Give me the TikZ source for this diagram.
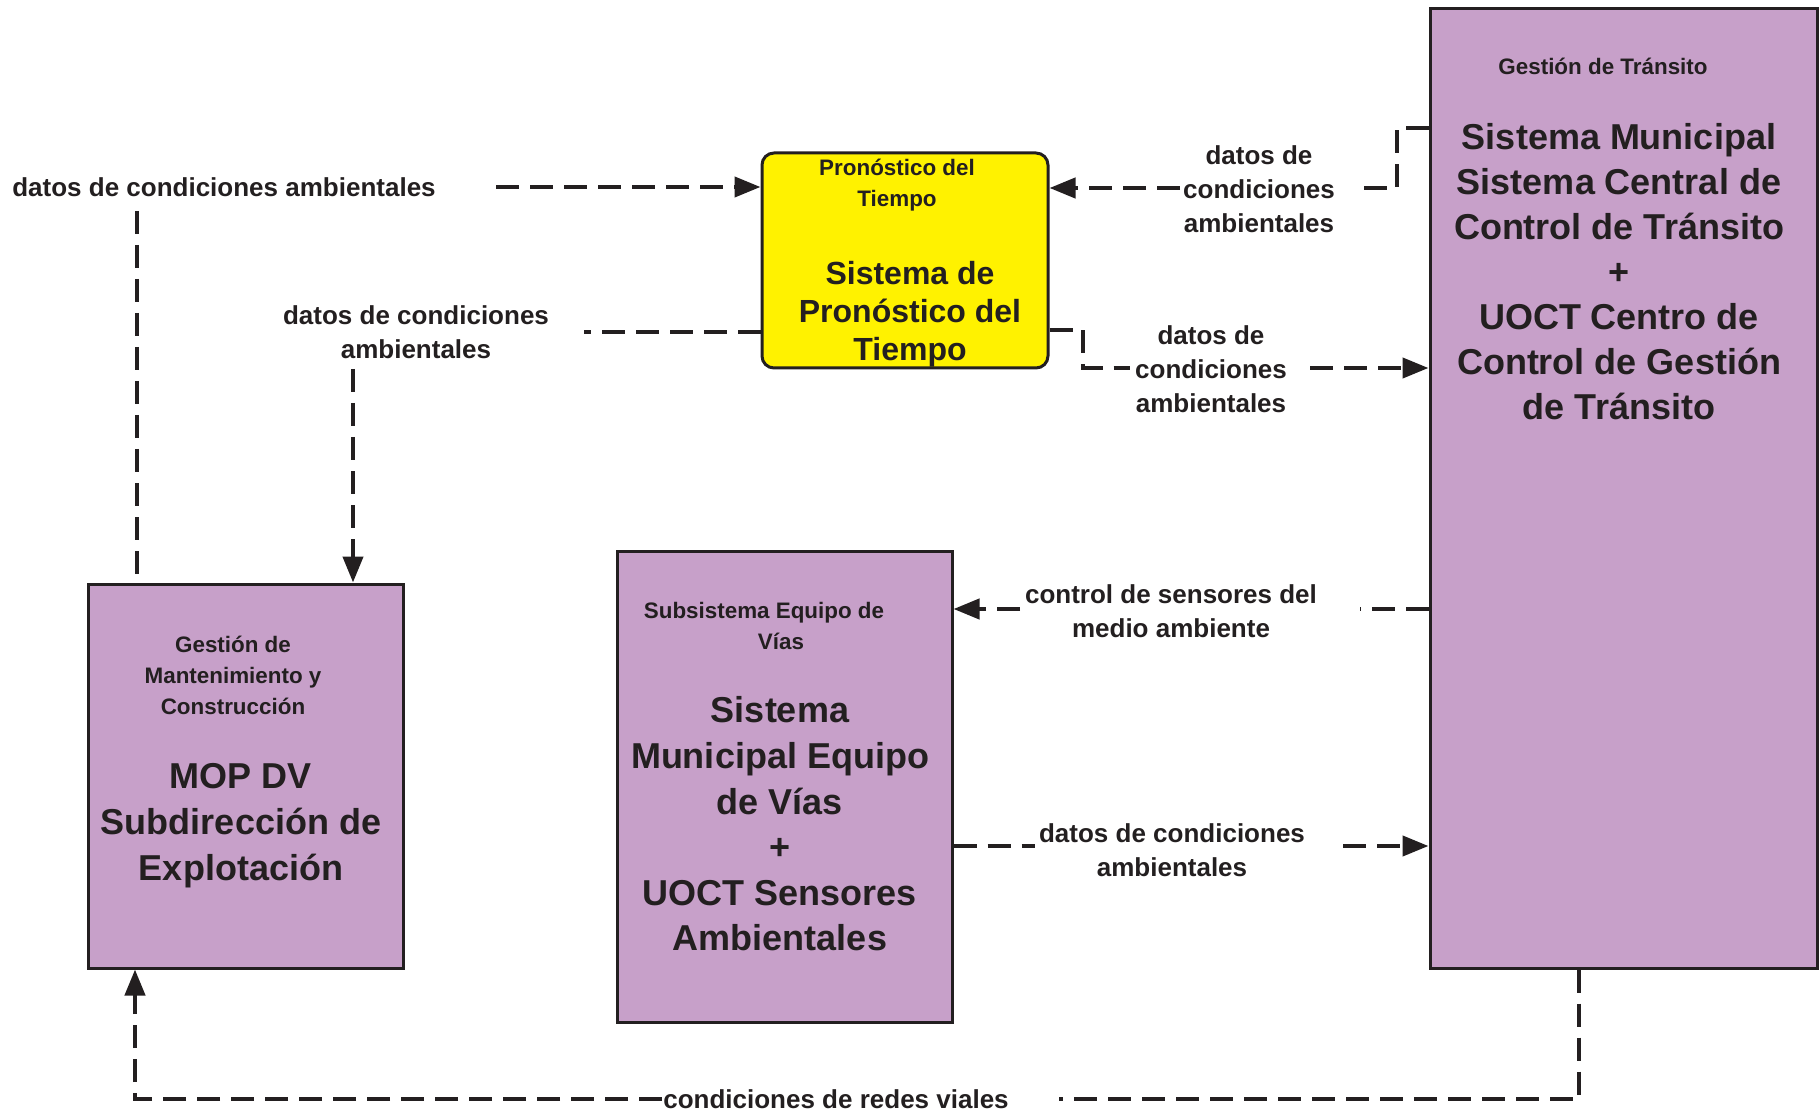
\documentclass[tikz,border=0pt]{standalone}
\usepackage{fontspec}
\setmainfont{Liberation Sans}
\usetikzlibrary{arrows.meta}
\definecolor{ink}{HTML}{231F20}
\definecolor{lila}{HTML}{C7A0C9}
\definecolor{amarillo}{HTML}{FFF200}

\tikzset{
  sysbox/.style={draw=ink, fill=lila, line width=1.5pt, inner sep=0pt},
  pronbox/.style={draw=ink, fill=amarillo, line width=1.5pt, rounded corners=6pt, inner sep=0pt},
  boxtitle/.style={text=ink, align=center, font=\fontsize{11.2}{15.5}\selectfont\bfseries},
  boxname/.style={text=ink, align=center, font=\fontsize{18}{22.5}\selectfont\bfseries},
  flowlabel/.style={text=ink, align=center, font=\fontsize{13}{17}\selectfont\bfseries},
  flow/.style={draw=ink, line width=2.1pt, dash pattern=on 11.5pt off 5.5pt},
  flowarrow/.style={flow, -{Triangle[length=13pt,width=10pt]}},
}

\begin{document}
\begin{tikzpicture}[x=0.5pt, y=-0.5pt]
  \useasboundingbox (0,0) rectangle (1820,1112);

  % boxes
  \node[sysbox, minimum width=193.5pt, minimum height=479.5pt] (transito) at (1623.5,488.5) {};
  \node[pronbox, minimum width=143pt, minimum height=107.5pt] (pron) at (905,260.5) {};
  \node[sysbox, minimum width=157.5pt, minimum height=192pt] (mop) at (245.5,776) {};
  \node[sysbox, minimum width=167.5pt, minimum height=235.5pt] (equipo) at (784.5,786.5) {};

  % box texts
  \node[boxtitle] (transitoT) at (1603,66) {Gestión de Tránsito};
  \node[boxname] (transitoN) at (1619,272) {Sistema Municipal\\Sistema Central de\\Control de Tránsito\\+\\UOCT Centro de\\Control de Gestión\\de Tránsito};

  \node[boxtitle] (pronT) at (897,185) {Pronóstico del\\Tiempo};
  \node[boxname, font=\fontsize{16}{19}\selectfont\bfseries] (pronN) at (910,314) {Sistema de\\Pronóstico del\\Tiempo};

  \node[boxtitle] (mopT) at (233,675) {Gestión de\\Mantenimiento y\\Construcción};
  \node[boxname, font=\fontsize{18}{23}\selectfont\bfseries] (mopN) at (241,826) {MOP DV\\Subdirección de\\Explotación};

  \node[boxtitle] (equipoT) at (764,626) {Subsistema Equipo de\\\hspace*{17pt}Vías};
  \node[boxname, font=\fontsize{18}{22.8}\selectfont\bfseries] (equipoN) at (780,824) {Sistema\\Municipal Equipo\\de Vías\\+\\UOCT Sensores\\Ambientales};

  % flow labels
  \node[flowlabel] (lA) at (224,187) {datos de condiciones ambientales};
  \node[flowlabel] (lB) at (416,332) {datos de condiciones\\ambientales};
  \node[flowlabel] (lC) at (1259,189) {datos de\\condiciones\\ambientales};
  \node[flowlabel] (lD) at (1211,369) {datos de\\condiciones\\ambientales};
  \node[flowlabel] (lE) at (1171,611) {control de sensores del\\medio ambiente};
  \node[flowlabel] (lF) at (1172,850) {datos de condiciones\\ambientales};
  \node[flowlabel] (lG) at (836,1099) {condiciones de redes viales};

  % mop -> pron
  \coordinate (a1) at (137,211);
  \draw[flow] (a1) -- (a1 |- mop.north);
  \coordinate (a2) at (496,187);
  \draw[flowarrow] (a2) -- (a2 -| pron.west);

  % pron -> mop
  \coordinate (b1) at (584,332);
  \draw[flow] (b1 -| pron.west) -- (b1);
  \coordinate (b2) at (353,369);
  \draw[flowarrow] (b2) -- (b2 |- mop.north);

  % transito -> pron
  \coordinate (c1) at (1397,128);
  \coordinate (c2) at (1360,188);
  \draw[flow] (c1 -| transito.west) -- (c1) |- (c2);
  \coordinate (c3) at (1180,188);
  \draw[flowarrow] (c3) -- (c3 -| pron.east);

  % pron -> transito
  \coordinate (d1) at (1083,330);
  \coordinate (d2) at (1130,368);
  \draw[flow] (d1 -| pron.east) -- (d1) |- (d2);
  \coordinate (d3) at (1310,368);
  \draw[flowarrow] (d3) -- (d3 -| transito.west);

  % transito -> equipo
  \coordinate (e1) at (1360,609);
  \draw[flow] (e1 -| transito.west) -- (e1);
  \coordinate (e2) at (1020,609);
  \draw[flowarrow] (e2) -- (e2 -| equipo.east);

  % equipo -> transito
  \coordinate (f1) at (1035,846);
  \draw[flow] (f1 -| equipo.east) -- (f1);
  \coordinate (f2) at (1343,846);
  \draw[flowarrow] (f2) -- (f2 -| transito.west);

  % transito -> mop
  \coordinate (g1) at (1579,1099);
  \coordinate (g2) at (1059,1099);
  \draw[flow] (g1 |- transito.south) -- (g1) -- (g2);
  \coordinate (g3) at (662,1099);
  \coordinate (g4) at (135,1099);
  \draw[flowarrow] (g3) -- (g4) -- (g4 |- mop.south);
\end{tikzpicture}
\end{document}
